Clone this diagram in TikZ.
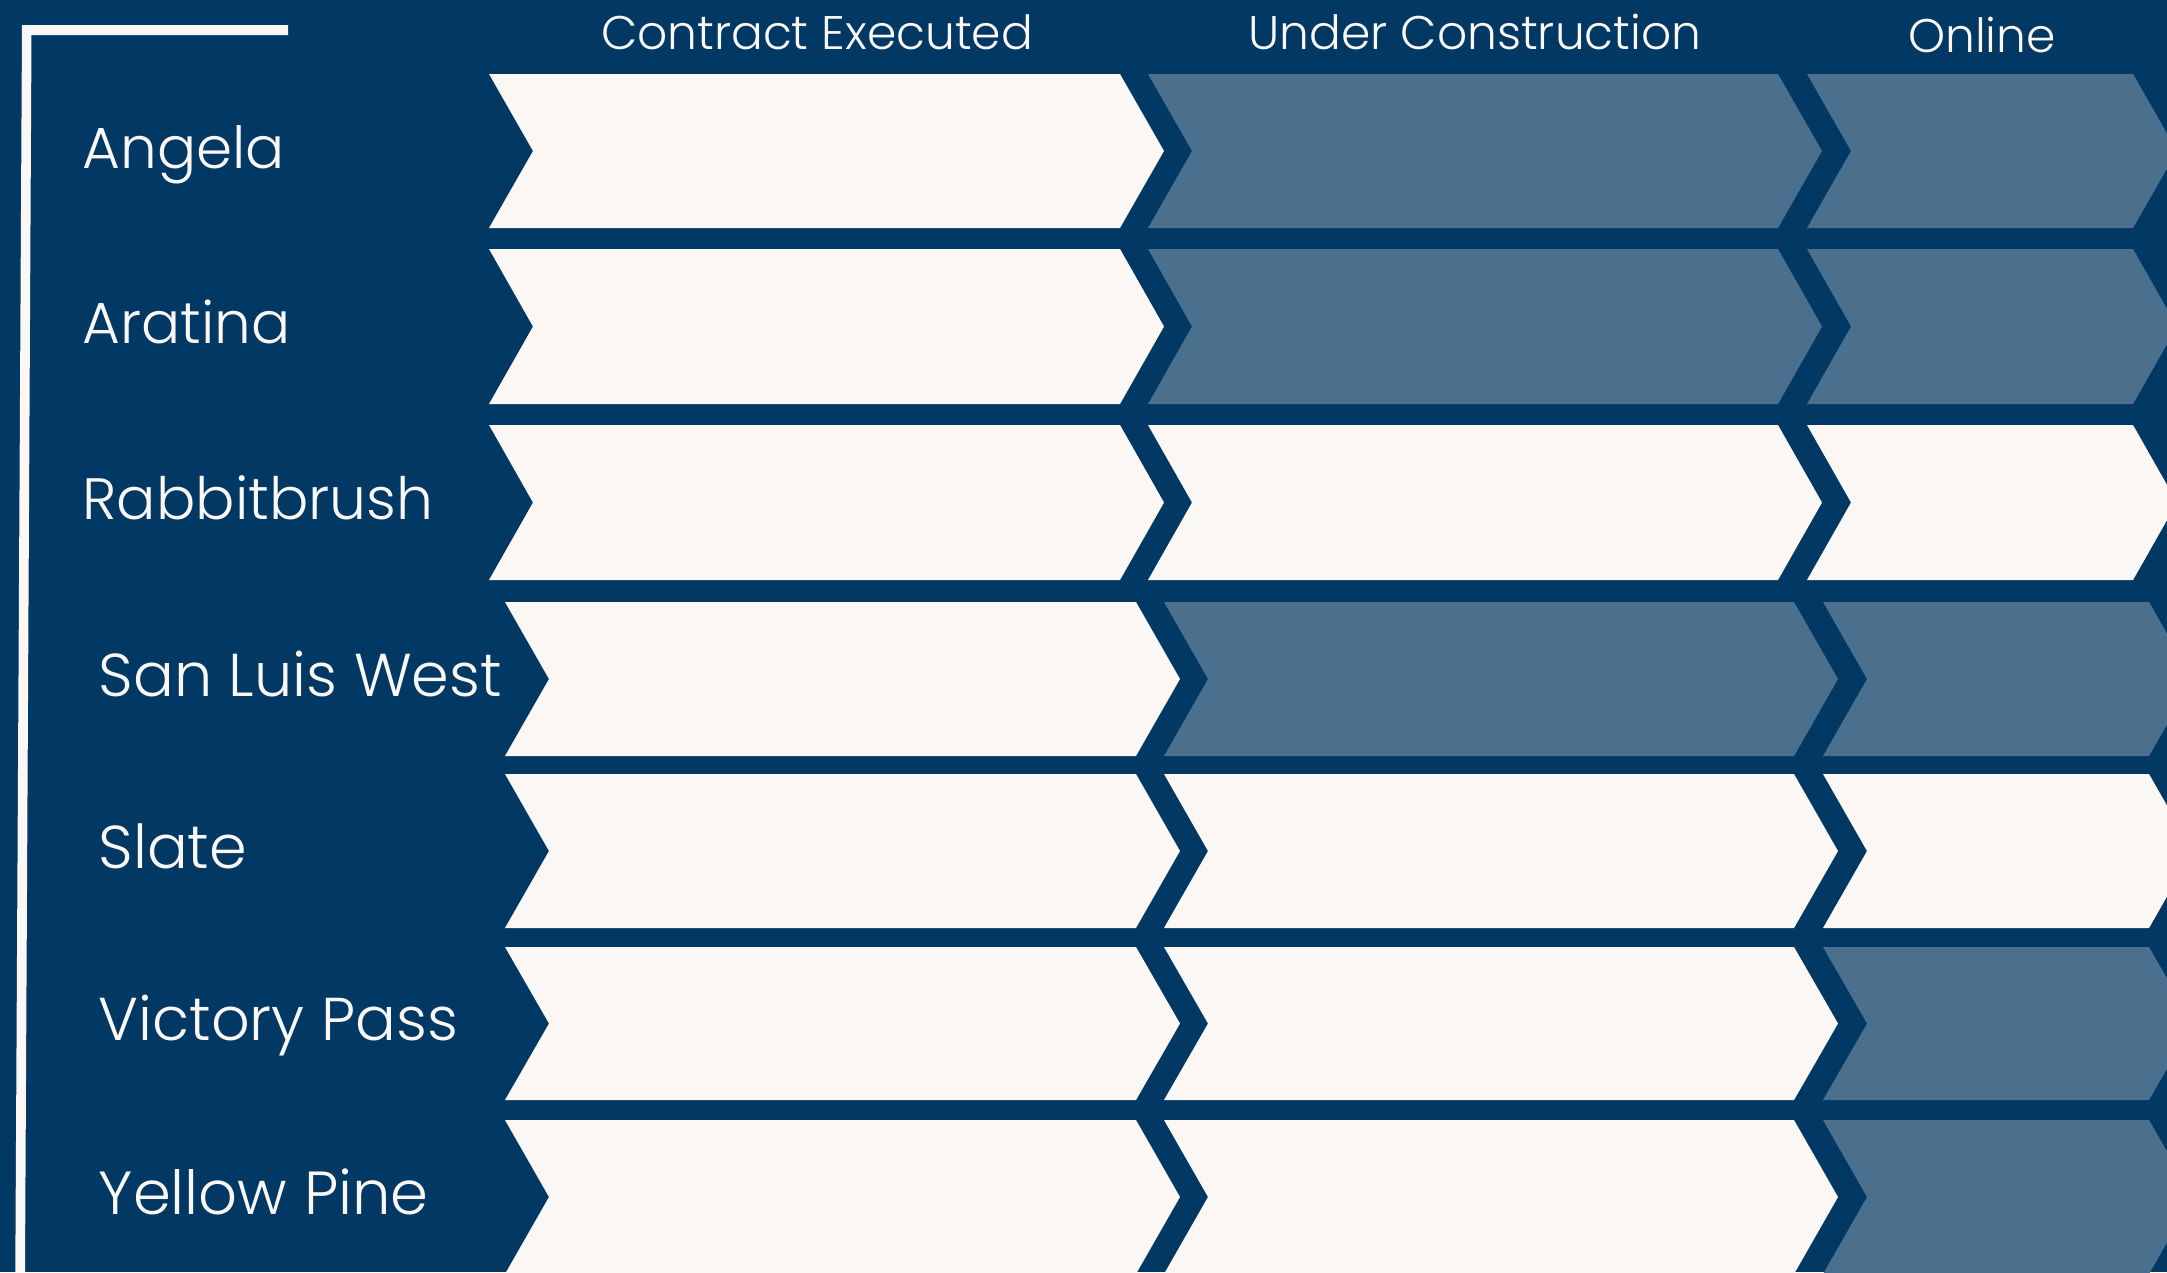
\documentclass[tikz,border=0pt]{standalone}
\usepackage{fontspec}
\IfFontExistsTF{Poppins Light}{\setmainfont{Poppins Light}}{\setmainfont{Poppins}}
\definecolor{navy}{RGB}{2,56,100}
\definecolor{slate}{RGB}{74,112,141}
\definecolor{cream}{RGB}{250,247,245}
\tikzset{
  lbl/.style={anchor=base west, text=cream, inner sep=0pt, font=\fontsize{#1}{20}\selectfont},
  hdr/.style={anchor=base, text=cream, inner sep=0pt, font=\fontsize{13.4}{16}\selectfont},
  done/.style={fill=cream},
  todo/.style={fill=slate}
}
\newcommand{\chev}[5]{% style, L, R, top, bottom
  \path[#1] (#2,#4) -- (#3,#4) -- ({#3+44},{(#4+#5)/2}) -- (#3,#5) -- (#2,#5) -- ({#2+44},{(#4+#5)/2}) -- cycle;}
\begin{document}
\begin{tikzpicture}[x=0.01cm,y=-0.01cm]
\fill[navy] (0,0) rectangle (2167,1272);
\useasboundingbox (0,0) rectangle (2167,1272);
% frame line
\fill[cream] (22,25) -- (288,25) -- (288,35) -- (31.5,35) -- (25,1272) -- (15.3,1272) -- cycle;
% headers
\node[hdr] (h1) at (817,49) {Contract Executed};
\node[hdr] (h2) at (1475,49) {Under Construction};
\node[hdr] (h3) at (1982,52) {Online};
% rows: name / top / bottom / shift / col2 / col3 / font size
\foreach \nm/\t/\b/\s/\cb/\cc/\fs [count=\i] in {
  Angela/74/228/0/todo/todo/16.5,
  Aratina/249/404/0/todo/todo/16.5,
  Rabbitbrush/425/580/0/done/done/16.6,
  San Luis West/602/756/16/todo/todo/17.2,
  Slate/774/928/16/done/done/17.2,
  Victory Pass/947/1100/16/done/todo/17.2,
  Yellow Pine/1120/1274/16/done/todo/17.3}{
  \chev{done}{489+\s}{1120+\s}{\t}{\b}
  \chev{\cb}{1148+\s}{1778+\s}{\t}{\b}
  \chev{\cc}{1807+\s}{2133+\s}{\t}{\b}
  \node[lbl=\fs] (r\i) at ({82+\s},{(\t+\b)/2+17}) {\nm};
}
\end{tikzpicture}
\end{document}
